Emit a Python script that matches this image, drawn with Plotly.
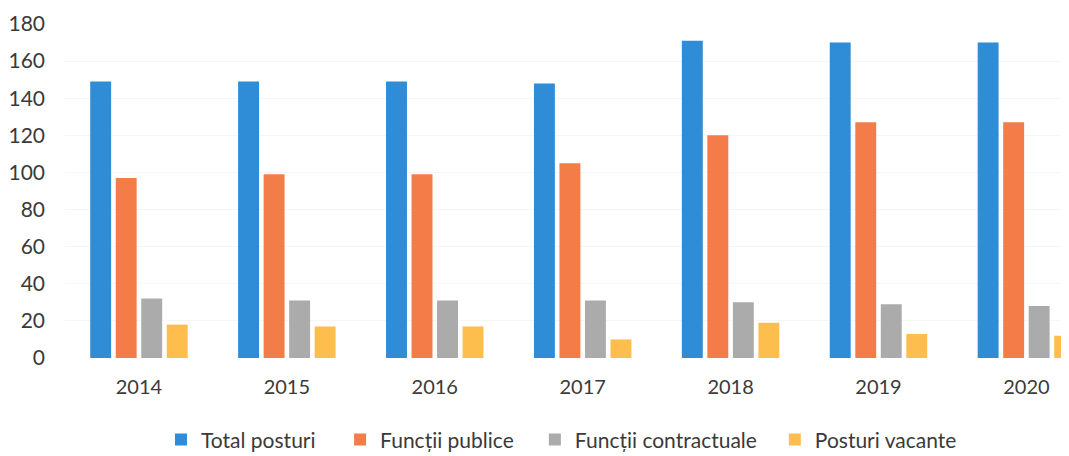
import plotly.graph_objects as go

years = ["2014", "2015", "2016", "2017", "2018", "2019", "2020"]
total_posturi = [149, 149, 149, 148, 171, 170, 170]
functii_publice = [97, 99, 99, 105, 120, 127, 127]
functii_contractuale = [32, 31, 31, 31, 30, 29, 28]
posturi_vacante = [18, 17, 17, 10, 19, 13, 12]

series = [
    ("Total posturi", total_posturi, "#2F8CD6"),
    ("Funcții publice", functii_publice, "#F47C48"),
    ("Funcții contractuale", functii_contractuale, "#ABABAB"),
    ("Posturi vacante", posturi_vacante, "#FDBE4E"),
]
legend_ids = ["legend", "legend2", "legend3", "legend4"]
legend_x = [0.0956, 0.274, 0.468, 0.707]

fig = go.Figure()
for (name, vals, color), lid in zip(series, legend_ids):
    fig.add_trace(go.Bar(name=name, x=years, y=vals, legend=lid,
                         marker=dict(color=color, line=dict(width=0))))

font_family = "Lato, 'Open Sans', sans-serif"
legend_common = dict(
    orientation="h",
    xanchor="left",
    y=-0.245,
    yanchor="middle",
    font=dict(size=21, color="#3a3a3a"),
    itemwidth=30,
    bgcolor="rgba(0,0,0,0)",
)
legends = {}
for lid, lx in zip(legend_ids, legend_x):
    legends[lid] = dict(legend_common, x=lx)

fig.update_layout(
    width=1061,
    height=448,
    barmode="group",
    bargap=0.31,
    bargroupgap=0.18,
    plot_bgcolor="white",
    paper_bgcolor="white",
    margin=dict(l=57, r=0, t=16, b=98, autoexpand=False),
    font=dict(family=font_family, size=20, color="#3a3a3a"),
    showlegend=True,
    xaxis=dict(
        type="category",
        range=[-0.5, 6.288],
        showline=False,
        showgrid=False,
        ticks="",
        automargin=False,
        ticklabelstandoff=15,
        tickfont=dict(size=20),
    ),
    yaxis=dict(
        range=[0, 180],
        tickvals=[0, 20, 40, 60, 80, 100, 120, 140, 160, 180],
        showline=False,
        showgrid=True,
        gridcolor="#f6f6f6",
        zeroline=False,
        ticks="",
        automargin=False,
        ticklabelstandoff=19,
        tickfont=dict(size=21),
    ),
    **legends,
)

fig.write_html("out.html")
